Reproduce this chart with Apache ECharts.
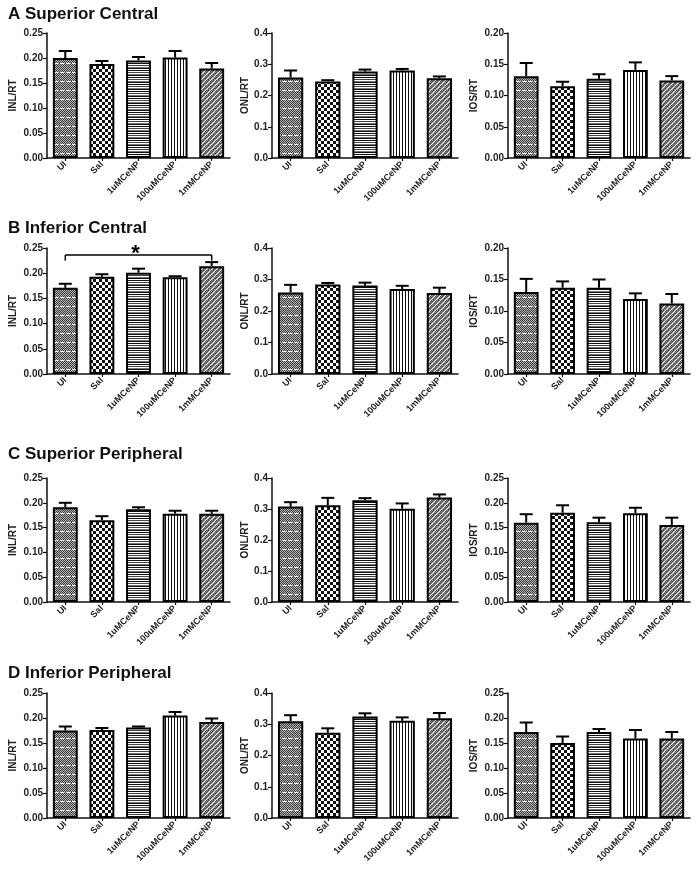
<!DOCTYPE html>
<html><head><meta charset="utf-8">
<script src="https://cdn.jsdelivr.net/npm/echarts@6/dist/echarts.min.js"></script>
<style>html,body{margin:0;padding:0;background:#fff}#c{width:697px;height:869px}</style>
</head><body><div id="c"></div>
<script>
// ---------- data ----------
const categories = ['UI', 'Sal', '1uMCeNP', '100uMCeNP', '1mMCeNP'];
const panelTitles = ['A Superior Central', 'B Inferior Central', 'C Superior Peripheral', 'D Inferior Peripheral'];
const yNames = ['INL/RT', 'ONL/RT', 'IOS/RT'];

// y axis ranges (max, interval) per row / column
const yMax = [[0.25, 0.4, 0.20], [0.25, 0.4, 0.20], [0.25, 0.4, 0.25], [0.25, 0.4, 0.25]];
const yStep = [0.05, 0.1, 0.05];
const yDecimals = [2, 1, 2];

// A Superior Central
const supCentralINL = [0.200, 0.188, 0.195, 0.201, 0.179];
const supCentralINLErr = [0.014, 0.006, 0.007, 0.013, 0.011];
const supCentralONL = [0.258, 0.245, 0.277, 0.280, 0.255];
const supCentralONLErr = [0.022, 0.004, 0.006, 0.005, 0.006];
const supCentralIOS = [0.131, 0.115, 0.127, 0.141, 0.124];
const supCentralIOSErr = [0.021, 0.007, 0.007, 0.012, 0.007];
// B Inferior Central
const infCentralINL = [0.171, 0.193, 0.201, 0.192, 0.214];
const infCentralINLErr = [0.008, 0.005, 0.008, 0.002, 0.008];
const infCentralONL = [0.259, 0.284, 0.281, 0.270, 0.257];
const infCentralONLErr = [0.024, 0.005, 0.009, 0.010, 0.017];
const infCentralIOS = [0.130, 0.137, 0.137, 0.119, 0.112];
const infCentralIOSErr = [0.021, 0.010, 0.013, 0.009, 0.015];
// C Superior Peripheral
const supPeriphINL = [0.191, 0.165, 0.187, 0.178, 0.178];
const supPeriphINLErr = [0.009, 0.008, 0.004, 0.006, 0.006];
const supPeriphONL = [0.308, 0.312, 0.328, 0.301, 0.337];
const supPeriphONLErr = [0.014, 0.024, 0.007, 0.017, 0.010];
const supPeriphIOS = [0.160, 0.180, 0.161, 0.179, 0.155];
const supPeriphIOSErr = [0.017, 0.015, 0.009, 0.011, 0.015];
// D Inferior Peripheral
const infPeriphINL = [0.175, 0.176, 0.181, 0.205, 0.192];
const infPeriphINLErr = [0.008, 0.004, 0.002, 0.007, 0.007];
const infPeriphONL = [0.310, 0.273, 0.325, 0.311, 0.319];
const infPeriphONLErr = [0.019, 0.014, 0.010, 0.011, 0.017];
const infPeriphIOS = [0.172, 0.150, 0.172, 0.159, 0.159];
const infPeriphIOSErr = [0.019, 0.013, 0.006, 0.017, 0.013];

// significance bracket in B (INL): from category, to category, line level, tick bottom
const sigFrom = 0, sigTo = 4, sigLevel = 0.236, sigTickEnd = 0.225, sigLabel = '*';

const means = [
  [supCentralINL, supCentralONL, supCentralIOS],
  [infCentralINL, infCentralONL, infCentralIOS],
  [supPeriphINL, supPeriphONL, supPeriphIOS],
  [infPeriphINL, infPeriphONL, infPeriphIOS]
];
const errs = [
  [supCentralINLErr, supCentralONLErr, supCentralIOSErr],
  [infCentralINLErr, infCentralONLErr, infCentralIOSErr],
  [supPeriphINLErr, supPeriphONLErr, supPeriphIOSErr],
  [infPeriphINLErr, infPeriphONLErr, infPeriphIOSErr]
];

// ---------- styles ----------
const FONT = "'Liberation Sans', Arial, sans-serif";
function tile(w, h, fn) {
  const c = document.createElement('canvas'); c.width = w; c.height = h;
  const g = c.getContext('2d'); fn(g, w, h);
  return { image: c, repeat: 'repeat' };
}
function px(g, x, y, col) { g.fillStyle = col; g.fillRect(x, y, 1, 1); }
const patterns = [
  // UI: fine grey checker with white dashed horizontal lines
  tile(6, 9, (g, w, h) => {
    for (let y = 0; y < h; y++) for (let x = 0; x < w; x++) px(g, x, y, (x + y) % 2 ? '#3c3c3c' : '#b4b4b4');
    for (let x = 0; x < 4; x++) px(g, x, 0, '#ffffff');
  }),
  // Sal: checkerboard
  tile(6, 6, (g) => {
    g.fillStyle = '#fff'; g.fillRect(0, 0, 6, 6);
    g.fillStyle = '#111'; g.fillRect(0, 0, 3, 3); g.fillRect(3, 3, 3, 3);
  }),
  // 1uM: horizontal stripes
  tile(1, 7, (g) => {
    const rows = ['#111', '#fff', '#444', '#fff', '#777', '#111', '#fff'];
    rows.forEach((c, i) => px(g, 0, i, c));
  }),
  // 100uM: vertical stripes
  tile(3, 1, (g) => {
    px(g, 0, 0, '#111'); px(g, 1, 0, '#fff'); px(g, 2, 0, '#fff');
  }),
  // 1mM: grey with white diagonal lines
  tile(5, 5, (g, w, h) => {
    for (let y = 0; y < h; y++) for (let x = 0; x < w; x++) {
      const d = (x + y) % 5;
      px(g, x, y, d === 0 ? '#ffffff' : ((x + y) % 2 ? '#4a4a4a' : '#8a8a8a'));
    }
  })
];

// ---------- layout ----------
const colLeft = [47, 272, 508];
const colWidth = [183, 186, 182];
const rowTop = [33, 248, 478, 693];
const rowHeight = [125, 126, 124, 125];
const titleTop = [1, 215, 441, 660];
const nameGaps = [29, 20, 29];

const option = {
  backgroundColor: '#fff',
  animation: false,
  title: [], grid: [], xAxis: [], yAxis: [], series: []
};

panelTitles.forEach((t, r) => option.title.push({
  text: t, left: 3, top: titleTop[r],
  textStyle: { fontFamily: FONT, fontWeight: 'bold', fontSize: 17, color: '#111' }
}));

let idx = 0;
for (let r = 0; r < 4; r++) {
  for (let c = 0; c < 3; c++) {
    option.grid.push({ left: colLeft[c], top: rowTop[r], width: colWidth[c], height: rowHeight[r], containLabel: false });
    option.xAxis.push({
      type: 'category', gridIndex: idx, data: categories,
      axisLine: { lineStyle: { color: '#111', width: 1.5 } },
      axisTick: { show: true, alignWithLabel: true, length: 3, lineStyle: { color: '#111', width: 1.2 } },
      axisLabel: { rotate: 45, interval: 0, margin: 5, fontFamily: FONT, fontWeight: 'bold', fontSize: 9, color: '#222' },
      splitLine: { show: false }
    });
    const dec = yDecimals[c];
    option.yAxis.push({
      type: 'value', gridIndex: idx, min: 0, max: yMax[r][c], interval: yStep[c],
      name: yNames[c], nameLocation: 'middle', nameGap: nameGaps[c],
      nameTextStyle: { fontFamily: FONT, fontWeight: 'bold', fontSize: 10, color: '#222' },
      axisLine: { show: true, lineStyle: { color: '#111', width: 1.5 } },
      axisTick: { show: true, length: 4, lineStyle: { color: '#111', width: 1.2 } },
      axisLabel: { margin: 4, fontFamily: FONT, fontWeight: 'bold', fontSize: 10, color: '#222',
        formatter: v => v.toFixed(dec) },
      splitLine: { show: false }
    });
    const m = means[r][c], e = errs[r][c];
    option.series.push({
      type: 'bar', xAxisIndex: idx, yAxisIndex: idx, barCategoryGap: '32%',
      data: m.map((v, i) => ({ value: v, itemStyle: { color: patterns[i], borderColor: '#000', borderWidth: 2 } })),
      z: 2
    });
    option.series.push({
      type: 'custom', xAxisIndex: idx, yAxisIndex: idx, z: 3,
      data: m.map((v, i) => [i, v, v + e[i]]),
      encode: { x: 0, y: [1, 2] },
      renderItem: (params, api) => {
        const x = api.value(0), mv = api.value(1), hv = api.value(2);
        const top = api.coord([x, hv]), base = api.coord([x, mv]);
        const cw = 6.5;
        return { type: 'group', children: [
          { type: 'line', shape: { x1: top[0], y1: base[1], x2: top[0], y2: top[1] }, style: { stroke: '#000', lineWidth: 2 } },
          { type: 'line', shape: { x1: top[0] - cw, y1: top[1], x2: top[0] + cw, y2: top[1] }, style: { stroke: '#000', lineWidth: 2 } }
        ] };
      }
    });
    if (r === 1 && c === 0) {
      option.series.push({
        type: 'custom', xAxisIndex: idx, yAxisIndex: idx, z: 4, clip: false,
        data: [[sigFrom, sigTo, sigLevel, sigTickEnd]],
        renderItem: (params, api) => {
          const a = api.coord([api.value(0), api.value(2)]);
          const b = api.coord([api.value(1), api.value(2)]);
          const lo = api.coord([api.value(0), api.value(3)]);
          const st = { stroke: '#000', lineWidth: 1.5 };
          return { type: 'group', children: [
            { type: 'line', shape: { x1: a[0], y1: a[1], x2: b[0], y2: b[1] }, style: st },
            { type: 'line', shape: { x1: a[0], y1: a[1], x2: a[0], y2: lo[1] }, style: st },
            { type: 'line', shape: { x1: b[0], y1: b[1], x2: b[0], y2: lo[1] }, style: st },
            { type: 'text', style: { text: sigLabel, x: (a[0] + b[0]) / 2 - 3, y: a[1] - 12, align: 'center', verticalAlign: 'top',
              fontFamily: FONT, fontWeight: 'bold', fontSize: 22, fill: '#000' } }
          ] };
        }
      });
    }
    idx++;
  }
}

const chart = echarts.init(document.getElementById('c'), null, { renderer: 'canvas' });
chart.setOption(option);
</script>
</body></html>
